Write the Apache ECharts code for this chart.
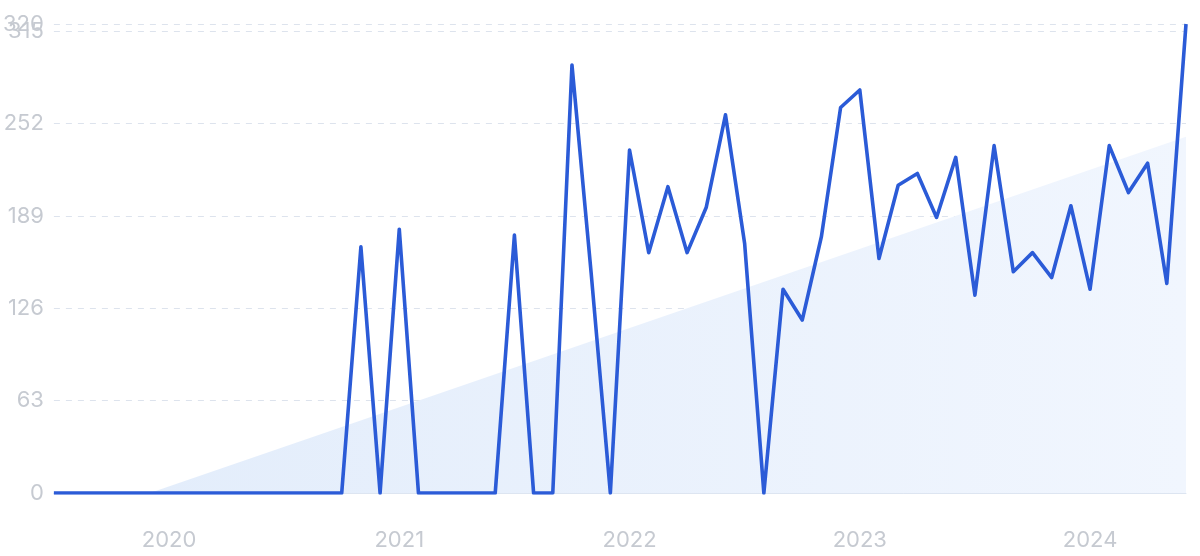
<!DOCTYPE html>
<html>
<head>
<meta charset="utf-8">
<script src="https://cdn.jsdelivr.net/npm/echarts@6/dist/echarts.min.js"></script>
<style>
html,body{margin:0;padding:0;background:#fff;}
#chart{width:1200px;height:556px;}
</style>
</head>
<body>
<div id="chart"></div>
<script>
// Monthly categories, Jul 2019 .. Jun 2024
const months = [
  '2019-07','2019-08','2019-09','2019-10','2019-11','2019-12',
  '2020-01','2020-02','2020-03','2020-04','2020-05','2020-06','2020-07','2020-08','2020-09','2020-10','2020-11','2020-12',
  '2021-01','2021-02','2021-03','2021-04','2021-05','2021-06','2021-07','2021-08','2021-09','2021-10','2021-11','2021-12',
  '2022-01','2022-02','2022-03','2022-04','2022-05','2022-06','2022-07','2022-08','2022-09','2022-10','2022-11','2022-12',
  '2023-01','2023-02','2023-03','2023-04','2023-05','2023-06','2023-07','2023-08','2023-09','2023-10','2023-11','2023-12',
  '2024-01','2024-02','2024-03','2024-04','2024-05','2024-06'
];
// Search volume values
const values = [
  0,0,0,0,0,0,
  0,0,0,0,0,0,0,0,0,0,168,0,
  180,0,0,0,0,0,176,0,0,292,150,0,
  234,164,209,164,195,258,170,0,139,118,175,263,
  275,160,210,218,188,229,135,237,151,164,147,196,
  139,237,205,225,143,320
];
// Trend band endpoints (index, value)
const trendStart = [5, 0];
const trendEnd = [59, 243];
// Y axis ticks
const yMin = 0, yMax = 320, yStep = 63;

const trend = months.map(() => null);
trend[trendStart[0]] = trendStart[1];
trend[trendEnd[0]] = trendEnd[1];

const labelStyle = { color: '#c6cad1', fontFamily: 'Inter', fontSize: 22, margin: 10 };

const chart = echarts.init(document.getElementById('chart'));
chart.setOption({
  animation: false,
  grid: { left: 53, right: 14, top: 24, bottom: 63 },
  xAxis: {
    type: 'category',
    data: months,
    boundaryGap: false,
    axisLine: { show: true, lineStyle: { color: '#dde5f1', width: 1 } },
    axisTick: { show: false },
    splitLine: { show: false },
    axisLabel: {
      interval: (i, v) => v.endsWith('-01'),
      formatter: v => v.slice(0, 4),
      color: '#c6cad1',
      fontFamily: 'Inter',
      fontSize: 22,
      margin: 36
    }
  },
  yAxis: [
    {
      type: 'value',
      min: yMin, max: yMax, interval: yStep,
      axisLine: { show: false },
      axisTick: { show: false },
      splitLine: { show: true, lineStyle: { color: '#dde3ed', type: [6, 6], width: 1 } },
      axisLabel: Object.assign({ showMaxLabel: false }, labelStyle)
    },
    {
      type: 'value',
      position: 'left',
      min: yMin, max: yMax, interval: yMax,
      axisLine: { show: false },
      axisTick: { show: false },
      splitLine: { show: false },
      axisLabel: Object.assign({ showMinLabel: false, showMaxLabel: true }, labelStyle)
    }
  ],
  series: [
    {
      type: 'line',
      data: trend,
      connectNulls: true,
      symbol: 'none',
      lineStyle: { width: 0, opacity: 0 },
      areaStyle: {
        color: new echarts.graphic.LinearGradient(0, 0, 1, 0, [
          { offset: 0, color: '#e3edfb' },
          { offset: 1, color: '#f1f6fe' }
        ]),
        opacity: 1
      },
      z: 1,
      silent: true
    },
    {
      type: 'line',
      data: values,
      symbol: 'none',
      lineStyle: { color: '#2b5bd7', width: 3.6, join: 'round' },
      z: 3
    }
  ]
});
</script>
</body>
</html>
